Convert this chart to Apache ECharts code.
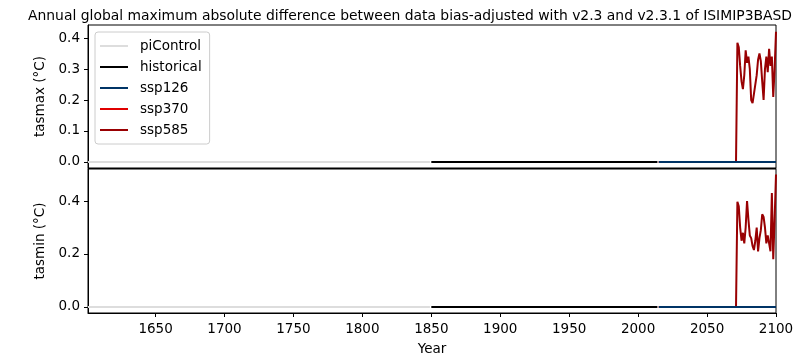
<!DOCTYPE html>
<html>
<head>
<meta charset="utf-8">
<script src="https://cdn.jsdelivr.net/npm/echarts@6/dist/echarts.min.js"></script>
<style>html,body{margin:0;padding:0;background:#fff}#c{width:800px;height:360px}</style>
</head>
<body>
<div id="c"></div>
<script>
// ---- data ----
const piControlYears = [1601, 1849];
const piControlVals = [0, 0];
const historicalYears = [1850, 2014];
const historicalVals = [0, 0];
const ssp126Years = [2015, 2100];
const ssp126Vals = [0, 0];
const ssp370Years = [2015, 2100];
const ssp370Vals = [0, 0];
const ssp585Years = [2015, 2071, 2072, 2073, 2074, 2075, 2076, 2077, 2078, 2079, 2080, 2081,
  2082, 2083, 2084, 2085, 2086, 2087, 2088, 2089, 2090, 2091, 2092, 2093, 2094, 2095, 2096,
  2097, 2098, 2099, 2100];
const ssp585Tasmax = [0, 0, 0.385, 0.37, 0.31, 0.26, 0.235, 0.28, 0.36, 0.32, 0.34, 0.30,
  0.20, 0.19, 0.22, 0.22, 0.28, 0.33, 0.35, 0.325, 0.26, 0.20, 0.30, 0.34, 0.29, 0.365, 0.31,
  0.34, 0.21, 0.30, 0.42];
const ssp585Tasmin = [0, 0, 0.397, 0.38, 0.30, 0.25, 0.28, 0.24, 0.30, 0.40, 0.33, 0.27,
  0.26, 0.23, 0.215, 0.25, 0.30, 0.21, 0.26, 0.29, 0.35, 0.34, 0.30, 0.24, 0.27, 0.24, 0.21,
  0.43, 0.18, 0.33, 0.50];
const xTicks = [1650, 1700, 1750, 1800, 1850, 1900, 1950, 2000, 2050, 2100];
const yTicksTop = [0, 0.1, 0.2, 0.3, 0.4];
const yTicksBottom = [0, 0.2, 0.4];
const names = ['piControl', 'historical', 'ssp126', 'ssp370', 'ssp585'];
const colors = {piControl: '#dddddd', historical: '#000000', ssp126: '#003466', ssp370: '#e00000', ssp585: '#990002'};

const FONT = 'DejaVu Sans';
const FS = 13.5;
function pairs(xs, ys) { return xs.map((x, i) => [x, ys[i]]); }

const seriesDefs = [
  ['piControl', piControlYears, piControlVals, piControlVals, 2],
  ['historical', historicalYears, historicalVals, historicalVals, 2],
  ['ssp585', ssp585Years, ssp585Tasmax, ssp585Tasmin, 2],
  ['ssp370', ssp370Years, ssp370Vals, ssp370Vals, 3],
  ['ssp126', ssp126Years, ssp126Vals, ssp126Vals, 4]
];
const series = [];
seriesDefs.forEach(([name, xs, top, bot, z]) => {
  [[0, top], [1, bot]].forEach(([g, ys]) => {
    series.push({
      name: name, type: 'line', xAxisIndex: g, yAxisIndex: g,
      data: pairs(xs, ys), showSymbol: false, symbol: 'none', smooth: false,
      lineStyle: {color: colors[name], width: 2}, itemStyle: {color: colors[name]},
      animation: false, z: z
    });
  });
});

function xAxisDef(g, showLabels) {
  return {
    type: 'value', gridIndex: g, min: 1601, max: 2100,
    axisLine: {show: true, onZero: false, lineStyle: {color: '#000', width: 1}},
    axisTick: {show: showLabels, inside: false, length: 4, lineStyle: {color: '#000'}, customValues: xTicks},
    axisLabel: {show: showLabels, color: '#000', fontFamily: FONT, fontSize: FS, margin: 9,
      customValues: xTicks, formatter: v => String(v)},
    splitLine: {show: false},
    name: showLabels ? 'Year' : '', nameLocation: 'middle', nameGap: 29,
    nameTextStyle: {color: '#000', fontFamily: FONT, fontSize: FS}
  };
}
function yAxisDef(g, min, max, ticks, label) {
  return {
    type: 'value', gridIndex: g, min: min, max: max,
    axisLine: {show: true, onZero: false, lineStyle: {color: '#000', width: 1}},
    axisTick: {show: true, length: 4, lineStyle: {color: '#000'}, customValues: ticks},
    axisLabel: {color: '#000', fontFamily: FONT, fontSize: FS, margin: 8, customValues: ticks,
      formatter: v => v.toFixed(1)},
    splitLine: {show: false},
    name: label, nameLocation: 'middle', nameGap: 38, nameRotate: 90,
    nameTextStyle: {color: '#000', fontFamily: FONT, fontSize: FS}
  };
}

const chart = echarts.init(document.getElementById('c'), null, {renderer: 'canvas'});
chart.setOption({
  backgroundColor: '#fff',
  animation: false,
  title: {
    text: 'Annual global maximum absolute difference between data bias-adjusted with v2.3 and v2.3.1 of ISIMIP3BASD',
    left: 23, top: 4,
    textStyle: {color: '#000', fontFamily: FONT, fontSize: 13.9, fontWeight: 'normal'}
  },
  legend: {
    data: names, orient: 'vertical', left: 95, top: 32,
    icon: 'rect', itemWidth: 28, itemHeight: 2, itemGap: 5,
    padding: [6, 8, 6, 5],
    backgroundColor: 'rgba(255,255,255,0.8)', borderColor: '#cccccc', borderWidth: 1, borderRadius: 3,
    textStyle: {color: '#000', fontFamily: FONT, fontSize: FS, lineHeight: 16, padding: [0, 0, 0, 7]}
  },
  grid: [
    {left: 88, right: 24, top: 25, height: 143, show: true, borderColor: '#000', borderWidth: 1, backgroundColor: 'transparent'},
    {left: 88, right: 24, top: 169, height: 144, show: true, borderColor: '#000', borderWidth: 1, backgroundColor: 'transparent'}
  ],
  xAxis: [xAxisDef(0, false), xAxisDef(1, true)],
  yAxis: [
    yAxisDef(0, -0.0194, 0.442, yTicksTop, 'tasmax (°C)'),
    yAxisDef(1, -0.023, 0.521, yTicksBottom, 'tasmin (°C)')
  ],
  series: series
});
</script>
</body>
</html>
